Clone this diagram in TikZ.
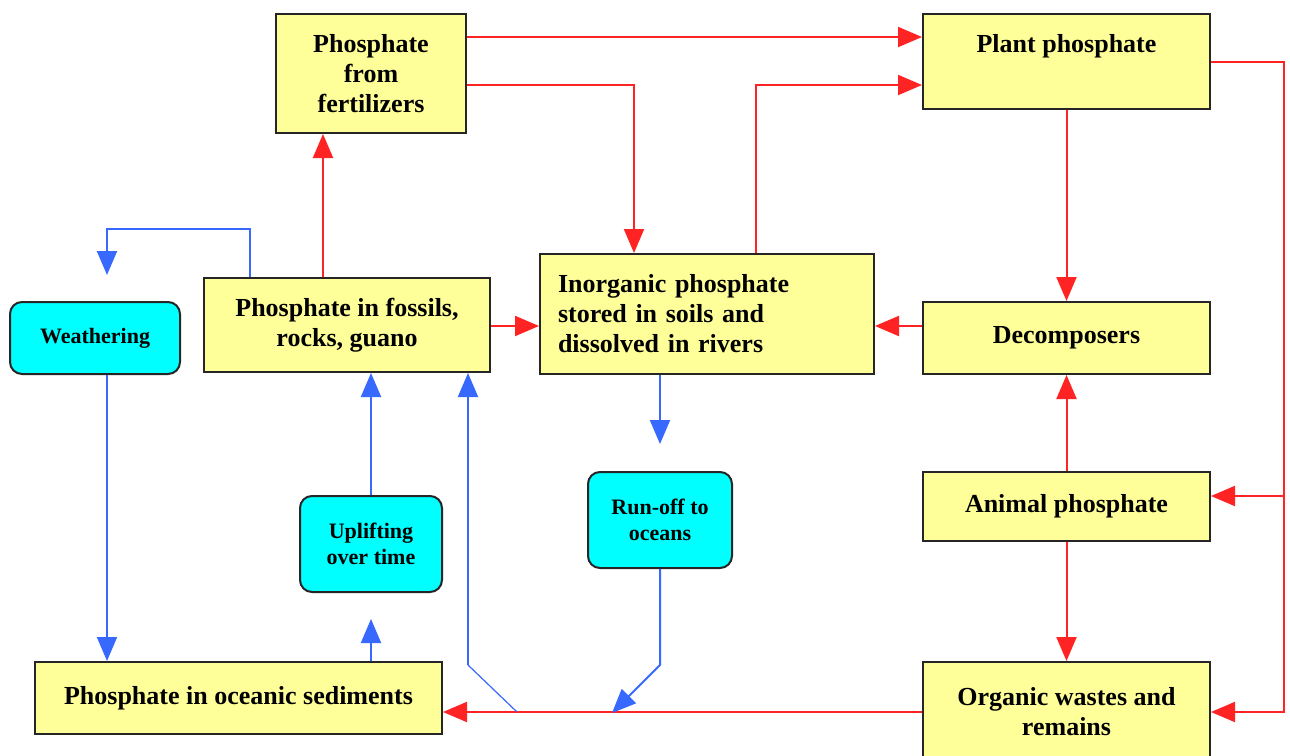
\documentclass[tikz,border=0pt]{standalone}
\usepackage{fontspec}
\setmainfont{Liberation Serif}
\usetikzlibrary{arrows.meta}
\definecolor{boxyellow}{RGB}{255,255,153}
\definecolor{runcyan}{RGB}{0,255,255}
\definecolor{flowred}{RGB}{255,35,35}
\definecolor{flowblue}{RGB}{55,105,255}
\begin{document}
\begin{tikzpicture}[x=0.5pt,y=-0.5pt]
\tikzset{
  ybox/.style={draw=black!85,line width=1pt,fill=boxyellow,inner sep=0pt,align=center,font=\fontsize{13}{15}\selectfont\bfseries},
  cbox/.style={draw=black!85,line width=1pt,fill=runcyan,rounded corners=6pt,inner sep=0pt,align=center,font=\fontsize{11}{13}\selectfont\bfseries},
  rflow/.style={draw=flowred,line width=1pt,-{Triangle[length=12pt,width=10pt]}},
  bflow/.style={draw=flowblue,line width=1pt,-{Triangle[length=12pt,width=10pt]}},
}
\useasboundingbox (0,0) rectangle (1290,755);
\fill[white] (0,0) rectangle (1290,755);
% boxes
\node[ybox,minimum width=95pt,minimum height=59.5pt] (fert) at (371,73.5) {Phosphate\\from\\fertilizers};
\node[ybox,minimum width=143.5pt,minimum height=47.5pt,text depth=18pt] (plant) at (1066.5,61.5) {Plant phosphate};
\node[ybox,align=left,text width=149pt,minimum width=167pt,minimum height=60pt,inner xsep=9pt] (inorg) at (707,314) {Inorganic phosphate\\stored in soils and\\dissolved in rivers};
\node[ybox,minimum width=143pt,minimum height=47pt] (fossils) at (347,325) {Phosphate in fossils,\\rocks, guano};
\node[ybox,minimum width=143.5pt,minimum height=36pt] (decomp) at (1066.5,338) {Decomposers};
\node[cbox,minimum width=85pt,minimum height=36pt] (weather) at (95,338) {Weathering};
\node[cbox,minimum width=71pt,minimum height=48pt] (uplift) at (371,544) {Uplifting\\over time};
\node[cbox,minimum width=72pt,minimum height=48pt] (runoff) at (660,520) {Run-off to\\oceans};
\node[ybox,minimum width=143.5pt,minimum height=34.5pt] (animal) at (1066.5,506.5) {Animal phosphate};
\node[ybox,minimum width=203.5pt,minimum height=36pt] (oceanic) at (238.5,698) {Phosphate in oceanic sediments};
\node[ybox,minimum width=143.5pt,minimum height=50pt] (organic) at (1066.5,712) {Organic wastes and\\remains};
% red flows
\draw[rflow] ([yshift=-12pt]fert.north east) -- ([yshift=-12pt]plant.north west);
\draw[rflow] ([yshift=-36pt]fert.north east) -| ([xshift=-36.5pt]inorg.north);
\draw[rflow] ([xshift=24.5pt]inorg.north) |- ([yshift=-36pt]plant.north west);
\coordinate (rside) at ([xshift=36.5pt]plant.east);
\coordinate (ain) at ([yshift=-12.5pt]animal.north east);
\draw[rflow] (plant.east) -- (rside) |- (organic.east);
\draw[rflow] (rside |- ain) -- (ain);
\draw[rflow] (plant.south) -- (decomp.north);
\draw[rflow] ([yshift=6pt]decomp.west) -- ([yshift=-6pt]inorg.east);
\draw[rflow] (animal.north) -- (decomp.south);
\draw[rflow] (animal.south) -- (organic.north);
\draw[rflow] (organic.west) -- ([yshift=-7pt]oceanic.east);
\draw[rflow] ([xshift=-12pt]fossils.north) -- ([xshift=-24pt]fert.south);
\draw[rflow] ([yshift=-0.5pt]fossils.east) -- ([yshift=-6pt]inorg.west);
% blue flows
\draw[bflow] ([xshift=-48.5pt]fossils.north) -- ++(0,24pt) -| ([xshift=6pt,yshift=13pt]weather.north);
\coordinate (wdown) at ([xshift=6pt]weather.south);
\draw[bflow] (wdown) -- (wdown |- oceanic.north);
\draw[bflow] (uplift.south |- oceanic.north) -- ([yshift=-13pt]uplift.south);
\draw[bflow] (uplift.north) -- (uplift.north |- fossils.south);
\coordinate (split) at ([xshift=37pt,yshift=-7pt]oceanic.east);
\draw[flowblue,line width=0.6pt] (split) -- ++(-24.5pt,23.5pt) coordinate (bend);
\draw[bflow] (bend) -- (bend |- fossils.south);
\draw[bflow] (runoff.north |- inorg.south) -- ([yshift=13.5pt]runoff.north);
\draw[bflow] (runoff.south) -- ++(0,-48pt) -- ++(-24pt,-24pt);
\end{tikzpicture}
\end{document}
